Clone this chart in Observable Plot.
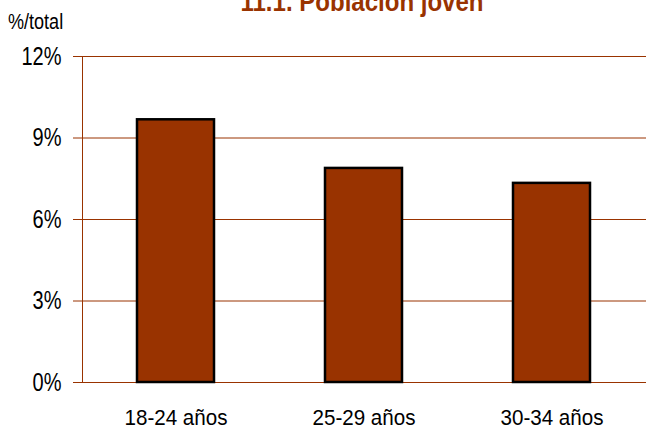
<!DOCTYPE html>
<html>
<head>
<meta charset="utf-8">
<script src="https://cdn.jsdelivr.net/npm/d3@7"></script>
<script src="https://cdn.jsdelivr.net/npm/@observablehq/plot@0.6"></script>
<style>
  html, body { margin: 0; padding: 0; background: #fff; }
  #wrap { position: relative; width: 646px; height: 433px; overflow: hidden; }
  .narrow { font-family: "Liberation Sans Narrow", "Arial Narrow", "Liberation Sans", Arial, sans-serif; }
  #title { position: absolute; left: 0; width: 724px; top: -13px; text-align: center; font-size: 27px; font-weight: bold; color: #993300; white-space: nowrap; transform: scaleX(0.89); transform-origin: 362px 0; }
  #ylab { position: absolute; left: 8px; top: 9px; font-size: 22px; color: #000; transform: scaleX(0.82); transform-origin: 0 0; white-space: nowrap; }
</style>
</head>
<body>
<div id="wrap">
  <div id="title" class="narrow">11.1. Población joven</div>
  <div id="ylab" class="narrow">%/total</div>
</div>
<script>
const categories = ["18-24 años", "25-29 años", "30-34 años"];
const values = [9.67, 7.88, 7.33];
const yTicks = [0, 3, 6, 9, 12];

const data = categories.map((c, i) => ({category: c, value: values[i]}));
const brown = "#993300";
const font = '"Liberation Sans Narrow", "Arial Narrow", "Liberation Sans", Arial, sans-serif';

const chart = Plot.plot({
  width: 646,
  height: 433,
  marginLeft: 82,
  marginRight: 0,
  marginTop: 56,
  marginBottom: 51,
  style: {fontFamily: font, fontSize: "24px", color: "#000", background: "transparent", overflow: "visible"},
  x: {domain: categories, paddingInner: 0.59, paddingOuter: 0.29, label: null},
  y: {domain: [0, 12], label: null},
  marks: [
    Plot.ruleY(yTicks, {stroke: brown, strokeWidth: 1}),
    Plot.axisY({ticks: yTicks, tickFormat: d => d + "%", tickSize: 9, tickPadding: 12, stroke: brown, fill: "#000", fontSize: 25, label: null}),
    Plot.barY(data, {x: "category", y: "value", fill: brown, stroke: "#000", strokeWidth: 2.5}),
    Plot.axisX({tickSize: 0, tickPadding: 27, fill: "#000", fontSize: 22.5, label: null}),
    Plot.frame({anchor: "left", stroke: brown})
  ]
});
chart.style.position = "absolute";
chart.style.left = "0px";
chart.style.top = "0px";
const wrap = document.getElementById("wrap");
wrap.insertBefore(chart, document.getElementById("title"));

// emulate a condensed face by compressing the glyphs of the tick labels
function condense(selector, factor) {
  chart.querySelectorAll(selector).forEach(t => {
    const w = t.getComputedTextLength();
    t.setAttribute("textLength", (w * factor).toFixed(2));
    t.setAttribute("lengthAdjust", "spacingAndGlyphs");
  });
}
condense('g[aria-label="y-axis tick label"] text', 0.8);
condense('g[aria-label="x-axis tick label"] text', 0.915);
</script>
</body>
</html>
